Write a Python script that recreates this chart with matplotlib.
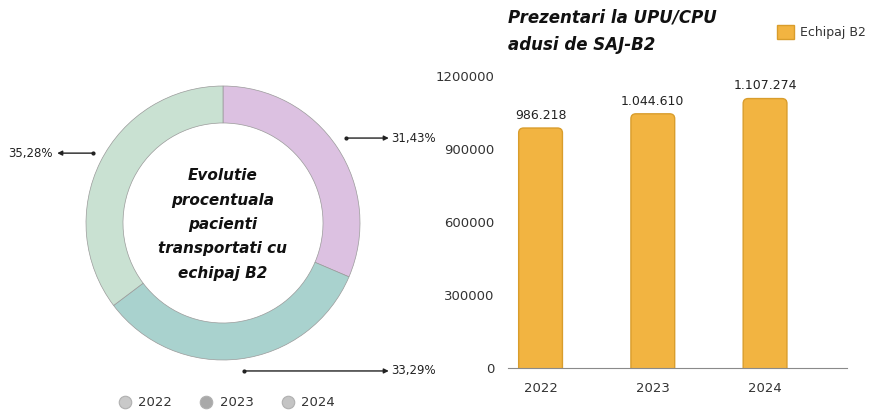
import matplotlib
matplotlib.use("Agg")
import matplotlib.pyplot as plt
from matplotlib.patches import FancyBboxPatch
from matplotlib.lines import Line2D

# data
years = ["2022", "2023", "2024"]
shares = [31.43, 33.29, 35.28]
share_labels = ["31,43%", "33,29%", "35,28%"]
pie_colors = ["#dcc1e1", "#a9d2ce", "#c9e1d2"]
legend_dots = ["#c9c9c9", "#a9a9a9", "#c4c4c4"]

visits = [986218, 1044610, 1107274]
yticks = [0, 300000, 600000, 900000, 1200000]

plt.rcParams["font.family"] = "DejaVu Sans"
fig = plt.figure(figsize=(8.81, 4.17), dpi=100)

# ---- donut ----
cx, cy, r = 223, 194, 137
axp = fig.add_axes([(cx - r) / 881, (cy - r) / 417, 2 * r / 881, 2 * r / 417])
axp.pie(shares, colors=pie_colors, startangle=90, counterclock=False,
        radius=1.0, wedgeprops=dict(width=0.27, edgecolor="#9a9a9a", linewidth=0.5))
axp.set_xlim(-1, 1)
axp.set_ylim(-1, 1)
axp.set_aspect("equal")
axp.axis("off")

axp.text(0, -0.01, "Evolutie\nprocentuala\npacienti\ntransportati cu\nechipaj B2",
         ha="center", va="center", fontsize=11, fontweight="bold",
         fontstyle="italic", linespacing=1.78, color="#111111")

# arrows: (tail, head, text pos, ha)
arrows = [((0.90, 0.62), (1.21, 0.62), (1.23, 0.62), "left"),
          ((0.15, -1.08), (1.21, -1.08), (1.23, -1.08), "left"),
          ((-0.95, 0.51), (-1.21, 0.51), (-1.24, 0.51), "right")]
for (tail, head, tpos, ha), lab in zip(arrows, share_labels):
    axp.annotate("", xy=head, xytext=tail, annotation_clip=False,
                 arrowprops=dict(arrowstyle="-|>", color="#222222", lw=1.0,
                                 mutation_scale=7, shrinkA=0, shrinkB=0))
    axp.plot([tail[0]], [tail[1]], marker="o", ms=2, color="#222222", clip_on=False)
    axp.text(tpos[0], tpos[1], lab, ha=ha, va="center", fontsize=8.5, color="#222222")

handles = [Line2D([], [], marker="o", ls="", ms=9, markerfacecolor=c,
                  markeredgecolor="#b0b0b0", markeredgewidth=0.8) for c in legend_dots]
fig.legend(handles, years, loc="center", bbox_to_anchor=(226 / 881, 1 - 403 / 417),
           ncol=3, frameon=False, fontsize=9.5, handletextpad=0.4, columnspacing=2.0,
           handlelength=1.2, labelcolor="#333333")

# ---- bars ----
axb = fig.add_axes([508 / 881, 49 / 417, 339 / 881, 292 / 417])
x = range(len(years))
bars = axb.bar(x, visits, width=0.39, color="#f2b441", edgecolor="#d99d2c", linewidth=1.0)
axb.set_xlim(-0.29, 2.73)
axb.set_ylim(0, 1200000)

# rounded tops
px_per_x = 339 / 3.02
px_per_y = 292 / 1200000
rad_px = 5
for b in bars:
    b.set_visible(False)
    rx = rad_px / px_per_x
    ry = rad_px / px_per_y
    p = FancyBboxPatch((b.get_x(), -ry), b.get_width(), b.get_height() + ry,
                       boxstyle=f"round,pad=0,rounding_size={rx}",
                       mutation_aspect=ry / rx, facecolor="#f2b441",
                       edgecolor="#d99d2c", linewidth=1.0)
    axb.add_patch(p)

for b, v in zip(bars, visits):
    axb.text(b.get_x() + b.get_width() / 2, v + 25000, f"{v:,}".replace(",", "."),
             ha="center", va="bottom", fontsize=9, color="#222222")

axb.set_xticks(list(x))
axb.set_xticklabels(years)
axb.set_yticks(yticks)
axb.set_yticklabels([str(t) for t in yticks])
axb.tick_params(length=0, labelsize=9.5, colors="#333333", pad=10)
axb.tick_params(axis="y", pad=10)
for s in ["top", "right", "left"]:
    axb.spines[s].set_visible(False)
axb.spines["bottom"].set_color("#8a8a8a")

fig.text(508 / 881, 1 - 8 / 417, "Prezentari la UPU/CPU\nadusi de SAJ-B2",
         ha="left", va="top", fontsize=12, fontweight="bold", fontstyle="italic",
         color="#111111", linespacing=1.7)

fig.legend([plt.Rectangle((0, 0), 1, 1, fc="#f2b441", ec="#d99d2c")], ["Echipaj B2"],
           loc="center left", bbox_to_anchor=(766 / 881, 1 - 32 / 417), frameon=False,
           fontsize=9, handlelength=1.3, handleheight=1.3, handletextpad=0.5,
           labelcolor="#333333")

fig.savefig("out.png", dpi=100, facecolor="white")
